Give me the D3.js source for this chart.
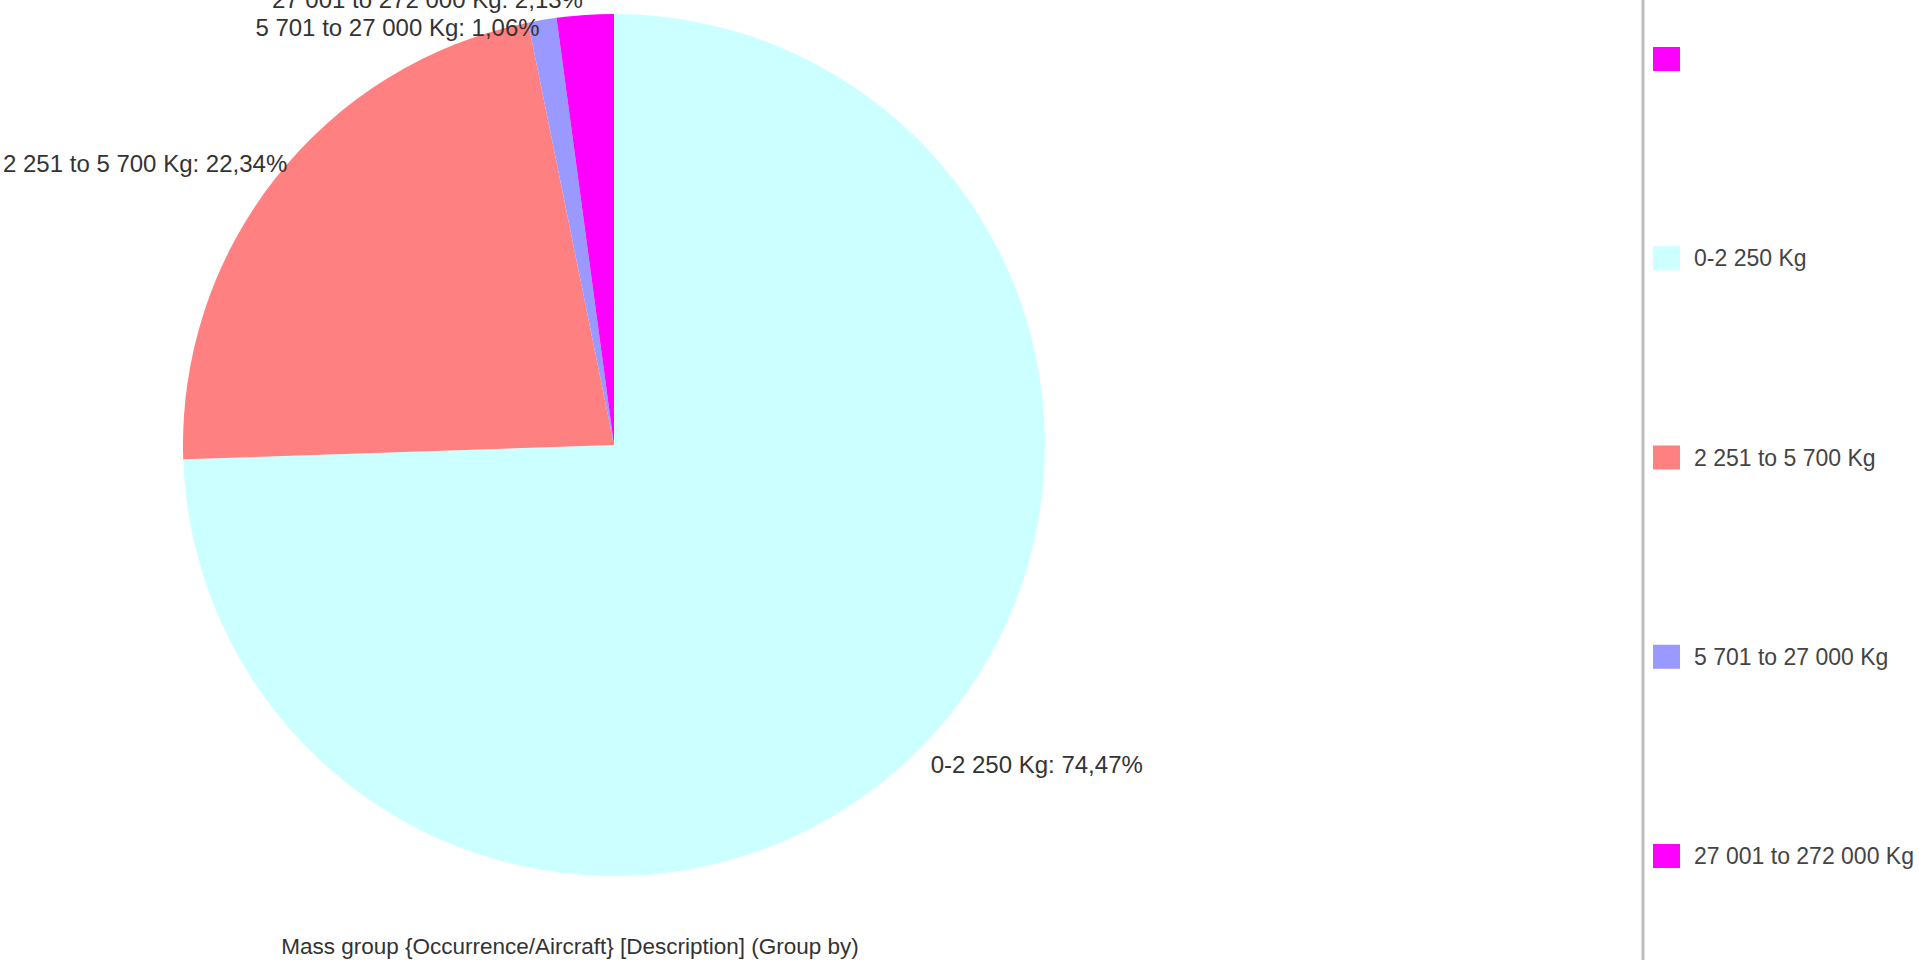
<!DOCTYPE html>
<html>
<head>
<meta charset="utf-8">
<script src="https://cdn.jsdelivr.net/npm/d3@7"></script>
<style>
  html, body { margin: 0; padding: 0; background: #ffffff; overflow: hidden; }
  svg { display: block; }
  text { font-family: "Liberation Sans", Arial, sans-serif; }
</style>
</head>
<body>
<svg id="chart" width="1919" height="960"></svg>
<script>
// ---- data ----
const categories = ["0-2 250 Kg", "2 251 to 5 700 Kg", "5 701 to 27 000 Kg", "27 001 to 272 000 Kg"];
const percentages = [74.47, 22.34, 1.06, 2.13];
const sliceColors = ["#ccffff", "#ff8080", "#9999ff", "#ff00ff"];
const legendLabels = ["", "0-2 250 Kg", "2 251 to 5 700 Kg", "5 701 to 27 000 Kg", "27 001 to 272 000 Kg"];
const legendColors = ["#ff00ff", "#ccffff", "#ff8080", "#9999ff", "#ff00ff"];
const axisTitle = "Mass group {Occurrence/Aircraft} [Description] (Group by)";

// ---- layout ----
const W = 1919, H = 960;
const cx = 614, cy = 445, R = 431;
const svg = d3.select("#chart");

const data = categories.map((c, i) => ({ cat: c, value: percentages[i], color: sliceColors[i] }));
const pie = d3.pie().value(d => d.value).sort(null).startAngle(0).endAngle(2 * Math.PI);
const arcs = pie(data);
const arc = d3.arc().innerRadius(0).outerRadius(R);
const labelArc = d3.arc().innerRadius(R + 4).outerRadius(R + 4);

const g = svg.append("g").attr("transform", `translate(${cx},${cy})`);
g.selectAll("path.slice").data(arcs).enter().append("path")
  .attr("class", "slice")
  .attr("d", arc)
  .attr("fill", d => d.data.color);

// labels
const fmt = v => v.toFixed(2).replace(".", ",") + "%";
const fontSize = 24;
let labels = arcs.map(a => {
  const [x, y] = labelArc.centroid(a);
  const right = x > 0;
  return {
    text: a.data.cat + ": " + fmt(a.data.value),
    right,
    x: right ? x + 4 : x - 2,
    y: right ? y + 26 : y - 3
  };
});
// simple collision pass on left-side labels (top to bottom)
const left = labels.filter(l => !l.right).sort((a, b) => a.y - b.y);
for (let i = 1; i < left.length; i++) {
  if (left[i].y - left[i - 1].y < fontSize + 4) left[i].y = left[i - 1].y + fontSize + 4;
}
const lblSel = g.selectAll("text.lbl").data(labels).enter().append("text")
  .attr("class", "lbl")
  .attr("x", d => d.x)
  .attr("y", d => d.y)
  .attr("text-anchor", d => d.right ? "start" : "end")
  .attr("font-size", fontSize)
  .attr("fill", "#333333")
  .text(d => d.text);
// keep labels inside the chart area horizontally
lblSel.each(function(d) {
  const w = this.getComputedTextLength();
  if (!d.right && cx + d.x - w < 3) {
    d.x = 3 + w - cx;
    d3.select(this).attr("x", d.x);
  }
});

// axis / category title under pie
svg.append("text")
  .attr("x", 570)
  .attr("y", 954)
  .attr("text-anchor", "middle")
  .attr("font-size", 22.5)
  .attr("fill", "#333333")
  .text(axisTitle);

// legend
const lineX = 1643;
svg.append("line")
  .attr("x1", lineX).attr("x2", lineX)
  .attr("y1", 0).attr("y2", H)
  .attr("stroke", "#bdbdbd").attr("stroke-width", 3);

const ly = d3.scalePoint().domain(d3.range(legendLabels.length)).range([59, 856]);
const lg = svg.append("g");
const items = lg.selectAll("g.item").data(legendLabels).enter().append("g")
  .attr("class", "item")
  .attr("transform", (d, i) => `translate(1653,${ly(i)})`);
items.append("rect")
  .attr("x", 0).attr("y", -12)
  .attr("width", 27).attr("height", 24)
  .attr("fill", (d, i) => legendColors[i]);
items.append("text")
  .attr("x", 41).attr("y", 8)
  .attr("font-size", 23)
  .attr("fill", "#444444")
  .text(d => d);
</script>
</body>
</html>
